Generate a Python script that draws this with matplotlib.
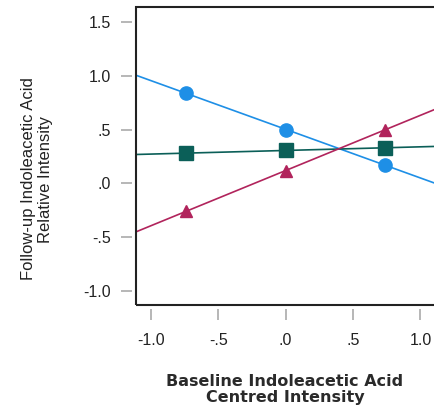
import numpy as np
import matplotlib
matplotlib.use('Agg')
import matplotlib.pyplot as plt
from matplotlib.patches import Rectangle

# valores
x_pontos = [-0.74, 0.0, 0.74]
azul = [0.84, 0.50, 0.17]
verde = [0.28, 0.31, 0.33]
magenta = [-0.26, 0.12, 0.50]

x_ticks = [-1.0, -0.5, 0.0, 0.5, 1.0]
x_labels = ['-1.0', '-.5', '.0', '.5', '1.0']
y_ticks = [-1.0, -0.5, 0.0, 0.5, 1.0, 1.5]
y_labels = ['-1.0', '-.5', '.0', '.5', '1.0', '1.5']

series = [
    (azul, '#1e8fe6', 'o', 9.5),
    (verde, '#0b5f58', 's', 9.5),
    (magenta, '#b1245c', '^', 8.5),
]

fig = plt.figure(figsize=(4.34, 4.13), dpi=100)
ax = fig.add_axes([0.3134, 0.2615, 0.6896, 0.7215])

xmin, xmax = -1.11, 1.11
ax.set_xlim(xmin, xmax)
ax.set_ylim(-1.13, 1.64)

x_linha = np.array([xmin, xmax])
for valores, cor, marcador, tam in series:
    coef = np.polyfit(x_pontos, valores, 1)
    ax.plot(x_linha, np.polyval(coef, x_linha), color=cor, lw=1.2, zorder=2)
    ax.plot(x_pontos, valores, linestyle='none', marker=marcador, color=cor,
            markersize=tam, zorder=3)

ax.set_xticks(x_ticks)
ax.set_xticklabels(x_labels)
ax.set_yticks(y_ticks)
ax.set_yticklabels(y_labels)

# ticks separados da moldura
for lado in ['left', 'bottom']:
    ax.spines[lado].set_position(('outward', 3))
for lado in ax.spines:
    ax.spines[lado].set_visible(False)
ax.add_patch(Rectangle((0, 0), 1, 1, transform=ax.transAxes, fill=False,
                       lw=1.5, edgecolor='#222222', clip_on=False, zorder=5))

ax.tick_params(axis='both', direction='out', length=8, width=1.2,
               color='#aaaaaa', labelsize=11.5, labelcolor='#222222')
ax.tick_params(axis='y', pad=7)
ax.tick_params(axis='x', pad=9)
for t in ax.get_xticklabels() + ax.get_yticklabels():
    t.set_fontfamily('Liberation Sans')

fig.text(37 / 434, 1 - 179 / 413, 'Follow-up Indoleacetic Acid\nRelative Intensity',
         rotation=90, ha='center', va='center', multialignment='center',
         fontfamily='Liberation Sans', fontsize=12, color='#222222',
         linespacing=1.15)
fig.text(285 / 434, 1 - 389.5 / 413, 'Baseline Indoleacetic Acid\nCentred Intensity',
         ha='center', va='center', multialignment='center',
         fontfamily='DejaVu Sans', fontsize=11.5, color='#2a2a2a',
         fontweight='bold', linespacing=1.15)

plt.savefig('out.png', dpi=100)
